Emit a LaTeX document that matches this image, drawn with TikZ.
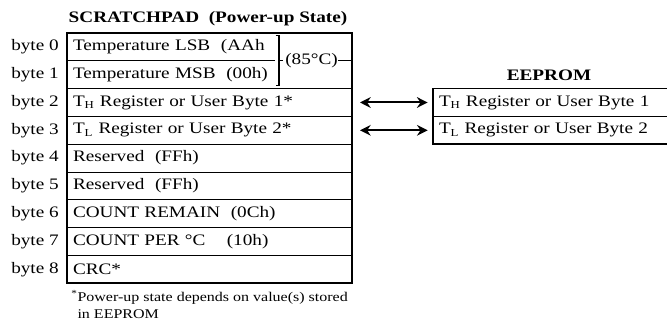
\documentclass[tikz,border=0pt]{standalone}
\usepackage{fontspec}
\setmainfont{Liberation Serif}[FakeStretch=1.2]
\usetikzlibrary{arrows.meta, positioning}

\begin{document}
\begin{tikzpicture}[
  x=0.75pt, y=-0.75pt,
  node distance=0pt,
  celltext/.style={
    rectangle, inner sep=0pt, inner xsep=4.5pt, outer sep=0pt,
    font=\fontsize{12}{14}\selectfont, align=left,
    minimum height=20.85pt
  },
  cell/.style={celltext, draw=black, line width=0.7pt,
    text width=204.75pt},
  halfcell/.style={celltext, text width=147pt},
  ecell/.style={celltext, draw=black, line width=0.7pt,
    text width=200pt},
  frame/.style={draw=black, line width=1.2pt},
  bytelab/.style={font=\fontsize{12}{14}\selectfont, inner sep=0pt},
  title/.style={font=\fontsize{12}{14}\selectfont\bfseries, inner sep=0pt},
  note/.style={font=\fontsize{10}{13}\selectfont, inner sep=0pt, align=left},
  dblarr/.style={{Stealth[length=8pt,width=8pt]}-{Stealth[length=8pt,width=8pt]},
    line width=1.5pt, shorten <=6pt, shorten >=4pt}
]
  \useasboundingbox (0,0) rectangle (667,334);

  % scratchpad rows
  \node[halfcell, anchor=north west] (r0) at (67,33) {Temperature LSB\ \ (AAh};
  \node[halfcell, below=of r0] (r1) {Temperature MSB\ \ (00h)};
  \node[cell, below=0pt of r1.south west, anchor=north west] (r2)
    {T\textsubscript{H} Register or User Byte 1*};
  \node[cell, below=of r2] (r3) {T\textsubscript{L} Register or User Byte 2*};
  \node[cell, below=of r3] (r4) {Reserved\ \ (FFh)};
  \node[cell, below=of r4] (r5) {Reserved\ \ (FFh)};
  \node[cell, below=of r5] (r6) {COUNT REMAIN\ \ (0Ch)};
  \node[cell, below=of r6] (r7) {COUNT PER °C\quad\ (10h)};
  \node[cell, below=of r7] (r8) {CRC*};
  \draw[line width=0.7pt] (r0.south west) -- (r0.south east);
  \draw[frame] (r0.north west) rectangle (r8.south east);

  \foreach \i in {0,...,8}
    \node[bytelab, left=6pt of r\i] (b\i) {byte \i};

  % bracket for bytes 0-1
  \draw[line width=0.8pt] ([shift={(0.5pt,-2pt)}]r0.north east) -| ([shift={(3pt,2pt)}]r1.south east) -- ++(-2.5pt,0);
  \draw[line width=0.8pt] ([xshift=3pt]r0.south east) -- ++(3pt,0) coordinate (tick);
  \node[bytelab, right=1.5pt of tick] (t85) {(85°C)};
  \draw[line width=0.8pt] (t85.east) -- (t85.east -| r2.east);

  \node[title] (sptitle) at (208,19) {SCRATCHPAD\ \ (Power-up State)};

  \node[note, below=5pt of r8.south west, anchor=north west, xshift=3pt] (fn)
    {\textsuperscript{*}Power-up state depends on value(s) stored\\
     \phantom{\textsuperscript{*}}in EEPROM};

  % eeprom
  \node[ecell, right=60.75pt of r2.north east, anchor=north west] (e0)
    {T\textsubscript{H} Register or User Byte 1};
  \node[ecell, below=of e0] (e1) {T\textsubscript{L} Register or User Byte 2};
  \draw[frame] (e0.north east) -- (e0.north west) -- (e1.south west) -- (e1.south east);
  \node[title, above=6pt of e0.north west, anchor=south, xshift=87pt] (eetitle) {EEPROM};

  \foreach \a/\b in {r2/e0, r3/e1}
    \draw[dblarr] (\a) -- (\b);
\end{tikzpicture}
\end{document}
